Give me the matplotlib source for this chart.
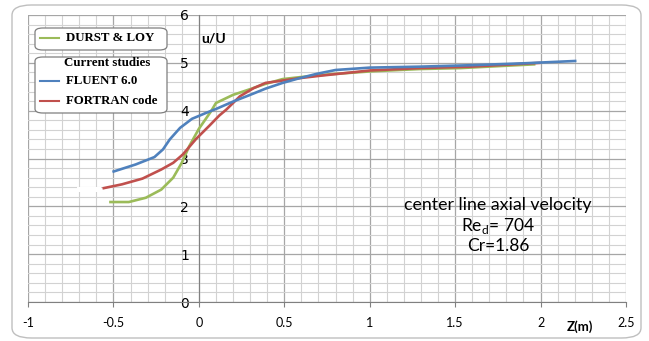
import numpy as np
import matplotlib
matplotlib.use("Agg")
import matplotlib.pyplot as plt
from matplotlib.patches import FancyBboxPatch, Rectangle
from matplotlib.lines import Line2D
from matplotlib.ticker import MultipleLocator

# centre line axial velocity u/U vs z (m)
durst_z = [-0.525, -0.41, -0.31, -0.22, -0.15, -0.10, -0.056, 0.0, 0.07, 0.1,
           0.2, 0.3, 0.39, 0.49, 0.59, 0.765, 1.0, 1.29, 1.53, 1.97]
durst_u = [2.09, 2.09, 2.18, 2.35, 2.60, 2.91, 3.26, 3.62, 3.98, 4.16,
           4.33, 4.45, 4.56, 4.66, 4.70, 4.76, 4.82, 4.87, 4.89, 4.97]

fluent_z = [-0.506, -0.37, -0.26, -0.21, -0.17, -0.11, -0.04, 0.04, 0.11, 0.2,
            0.3, 0.39, 0.49, 0.59, 0.69, 0.80, 1.0, 1.29, 1.59, 1.9, 2.21]
fluent_u = [2.72, 2.875, 3.03, 3.19, 3.40, 3.64, 3.83, 3.95, 4.05, 4.19,
            4.33, 4.46, 4.58, 4.68, 4.77, 4.85, 4.90, 4.92, 4.95, 4.99, 5.04]

fortran_z = [-0.564, -0.45, -0.33, -0.22, -0.15, -0.095, -0.016, 0.06, 0.12, 0.16,
             0.24, 0.32, 0.39, 0.49, 0.59, 0.71, 1.0, 1.29, 1.59, 2.0]
fortran_u = [2.375, 2.46, 2.58, 2.77, 2.91, 3.08, 3.41, 3.68, 3.90, 4.02,
             4.30, 4.47, 4.58, 4.63, 4.68, 4.73, 4.84, 4.89, 4.92, 5.0]

X_TICKS = [-1, -0.5, 0, 0.5, 1, 1.5, 2, 2.5]
X_TICK_LABELS = ["-1", "-0.5", "0", "0.5", "1", "1.5", "2", "2.5"]
Y_TICKS = [0, 1, 2, 3, 4, 5, 6]

GREEN, BLUE, RED = "#9BBB59", "#4F81BD", "#C0504D"
SANS = ["Lato", "DejaVu Sans"]
SERIF = ["Liberation Serif", "DejaVu Serif"]

W, H = 649, 341
fig = plt.figure(figsize=(W / 100, H / 100), dpi=100)


def fx(px):
    return px / W


def fy(py):
    return 1 - py / H


# outer chart frame (Excel style rounded box)
fig.patches.append(FancyBboxPatch((fx(12), fy(338)), fx(629), 333 / H,
                                  boxstyle="round,pad=0,rounding_size=0.03",
                                  transform=fig.transFigure, fc="white",
                                  ec="#BFBFBF", lw=1.0, zorder=-5))

ax = fig.add_axes([fx(28), fy(302), fx(626) - fx(28), fy(15) - fy(302)])
ax.set_zorder(1)
ax.set_xlim(-1, 2.5)
ax.set_ylim(0, 6)
ax.set_facecolor("none")

ax.xaxis.set_major_locator(MultipleLocator(0.5))
ax.xaxis.set_minor_locator(MultipleLocator(0.1))
ax.yaxis.set_major_locator(MultipleLocator(1))
ax.yaxis.set_minor_locator(MultipleLocator(0.2))
ax.grid(which="major", color="#A6A6A6", lw=0.9)
ax.grid(which="minor", color="#D2D2D2", lw=0.8)
ax.set_axisbelow(True)

ax.set_xticks(X_TICKS)
ax.set_xticklabels(X_TICK_LABELS, family=SANS, fontsize=9)
ax.set_yticks(Y_TICKS)
ax.set_yticklabels([str(v) for v in Y_TICKS], family=SANS, fontsize=9)
ax.tick_params(axis="x", which="major", direction="out", length=3.5, pad=7,
               color="#808080")
ax.tick_params(axis="x", which="minor", length=0)
ax.tick_params(axis="y", which="both", length=0, pad=7)

for s in ["top", "right"]:
    ax.spines[s].set_visible(False)
ax.spines["left"].set_position(("data", 0))
ax.spines["left"].set_color("#808080")
ax.spines["bottom"].set_color("#808080")

# small white patch seen left of the curves
ax.add_patch(Rectangle((-0.713, 2.30), 0.141, 0.10, fc="white", ec="none", zorder=1.5))

ax.plot(durst_z, durst_u, color=GREEN, lw=1.9, zorder=3, solid_capstyle="butt")
ax.plot(fortran_z, fortran_u, color=RED, lw=1.9, zorder=3, solid_capstyle="butt")
ax.plot(fluent_z, fluent_u, color=BLUE, lw=1.9, zorder=4, solid_capstyle="butt")

ax.text(0.015, 5.5, "u/U", family=SANS, fontsize=10, fontweight="bold", va="center")
fig.text(fx(580), fy(327), "Z(m)", family=SANS, fontsize=9.5, fontweight="bold",
         ha="center", va="center")

ax.text(1.75, 2.02, "center line axial velocity", family=SANS, fontsize=12.8,
        ha="center", va="center")
ax.text(1.75, 1.58, r"Re$_\mathregular{d}$= 704", family=SANS, fontsize=12.5,
        ha="center", va="center")
ax.text(1.75, 1.17, "Cr=1.86", family=SANS, fontsize=12.5, ha="center", va="center")

# legend boxes drawn by hand, as in the original
for (x0, y0, x1, y1) in [(35, 28, 167, 50), (35, 57, 167, 113)]:
    fig.patches.append(FancyBboxPatch((fx(x0), fy(y1)), fx(x1) - fx(x0), fy(y0) - fy(y1),
                                      boxstyle="round,pad=0,rounding_size=0.012",
                                      transform=fig.transFigure, fc="white",
                                      ec="#7F7F7F", lw=0.9, zorder=5))

for color, py, label in [(GREEN, 38, "DURST & LOY"), (BLUE, 81, "FLUENT 6.0"),
                         (RED, 101, "FORTRAN code")]:
    fig.lines.append(Line2D([fx(40), fx(59)], [fy(py), fy(py)], color=color, lw=1.5,
                            transform=fig.transFigure, zorder=6))
    fig.text(fx(66), fy(py), label, family=SERIF, fontsize=9.3, fontweight="bold",
             va="center", ha="left", zorder=6)
fig.text(fx(107), fy(63), "Current studies", family=SERIF, fontsize=9.3,
         fontweight="bold", va="center", ha="center", zorder=6)

fig.savefig("out.png", dpi=100)
